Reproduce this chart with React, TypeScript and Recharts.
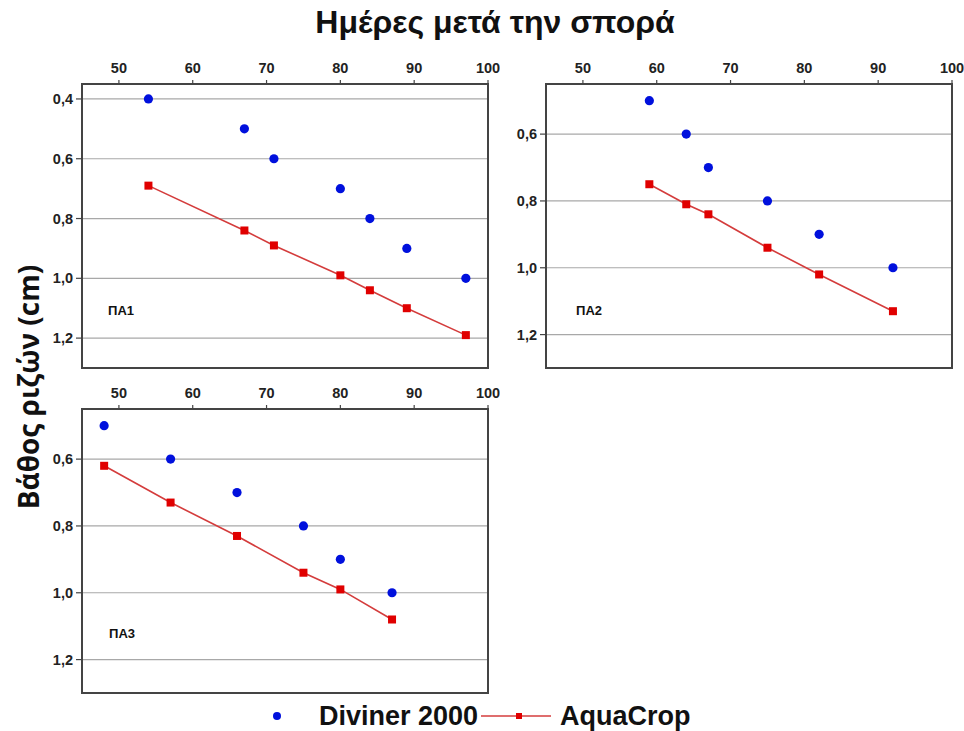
import React from "react";
import {
  ComposedChart,
  Line,
  Scatter,
  XAxis,
  YAxis,
  CartesianGrid,
  ReferenceArea,
} from "recharts";

// Panel ΠΑ1
const days1 = [54, 67, 71, 80, 84, 89, 97];
const diviner1 = [0.4, 0.5, 0.6, 0.7, 0.8, 0.9, 1.0];
const aquacrop1 = [0.69, 0.84, 0.89, 0.99, 1.04, 1.1, 1.19];

// Panel ΠΑ2
const days2 = [59, 64, 67, 75, 82, 92];
const diviner2 = [0.5, 0.6, 0.7, 0.8, 0.9, 1.0];
const aquacrop2 = [0.75, 0.81, 0.84, 0.94, 1.02, 1.13];

// Panel ΠΑ3
const days3 = [48, 57, 66, 75, 80, 87];
const diviner3 = [0.5, 0.6, 0.7, 0.8, 0.9, 1.0];
const aquacrop3 = [0.62, 0.73, 0.83, 0.94, 0.99, 1.08];

const xTicks = [50, 60, 70, 80, 90, 100];
const yTicks1 = [0.4, 0.6, 0.8, 1.0, 1.2];
const yTicks23 = [0.6, 0.8, 1.0, 1.2];

const panelNames = ["ΠΑ1", "ΠΑ2", "ΠΑ3"];
const seriesNames = ["Diviner 2000", "AquaCrop"];
const titleText = "Ημέρες μετά την σπορά";
const yLabelText = "Βάθος ριζών (cm)";

const BLUE = "#0010dd";
const RED = "#e00000";
const LINE_RED = "#d43c3c";
const FRAME = "#444";
const GRID = "#a8a8a8";

const build = (days: number[], div: number[], aq: number[]) =>
  days.map((d, i) => ({ day: d, diviner: div[i], aquacrop: aq[i] }));

const fmt = (v: number) => v.toFixed(1).replace(".", ",");

const tickStyle = {
  fontFamily: "'Liberation Sans', Arial, sans-serif",
  fontSize: 14.5,
  fontWeight: 700,
  fill: "#222",
};

const SquareDot = (props: any) => {
  const { cx, cy } = props;
  if (cx == null || cy == null) return null;
  return <rect x={cx - 4} y={cy - 4} width={8} height={8} fill={RED} />;
};

const CircleDot = (props: any) => {
  const { cx, cy } = props;
  if (cx == null || cy == null) return null;
  return <circle cx={cx} cy={cy} r={4.6} fill={BLUE} />;
};

function Panel({
  data,
  yDomain,
  yTicks,
}: {
  data: any[];
  yDomain: [number, number];
  yTicks: number[];
}) {
  return (
    <ComposedChart
      width={500}
      height={325}
      data={data}
      margin={{ top: 0, right: 12, bottom: 7, left: 0 }}
    >
      <CartesianGrid vertical={false} stroke={GRID} strokeWidth={1.2} />
      <XAxis
        type="number"
        dataKey="day"
        orientation="top"
        domain={[45, 100]}
        ticks={xTicks}
        height={34}
        tickSize={4}
        tickMargin={7}
        axisLine={false}
        tickLine={{ stroke: FRAME, strokeWidth: 1.2 }}
        tick={tickStyle}
        allowDataOverflow
        interval={0}
      />
      <YAxis
        type="number"
        domain={yDomain}
        reversed
        ticks={yTicks}
        width={82}
        tickSize={6}
        tickMargin={3}
        axisLine={false}
        tickLine={{ stroke: FRAME, strokeWidth: 1.2 }}
        tick={tickStyle}
        tickFormatter={fmt}
        allowDataOverflow
        interval={0}
      />
      <ReferenceArea
        x1={45}
        x2={100}
        y1={yDomain[0]}
        y2={yDomain[1]}
        fill="none"
        stroke={FRAME}
        strokeWidth={2}
        ifOverflow="visible"
      />
      <Line
        dataKey="aquacrop"
        name={seriesNames[1]}
        stroke={LINE_RED}
        strokeWidth={1.6}
        dot={<SquareDot />}
        activeDot={false}
        isAnimationActive={false}
      />
      <Scatter
        dataKey="diviner"
        name={seriesNames[0]}
        shape={<CircleDot />}
        isAnimationActive={false}
      />
    </ComposedChart>
  );
}

const panelLabelStyle: React.CSSProperties = {
  position: "absolute",
  fontFamily: "'Liberation Sans', Arial, sans-serif",
  fontWeight: 700,
  fontSize: 13,
  color: "#111",
  lineHeight: "13px",
};

export default function App() {
  return (
    <div
      style={{
        position: "absolute",
        left: 0,
        top: 0,
        width: 964,
        height: 731,
        background: "#fff",
        overflow: "hidden",
      }}
    >
      <div
        style={{
          position: "absolute",
          left: 0,
          top: 0,
          width: 964,
          textAlign: "center",
          paddingLeft: 26,
          boxSizing: "border-box",
          fontFamily: "'Liberation Sans Narrow', 'Liberation Sans', Arial, sans-serif",
          fontStretch: "condensed",
          fontWeight: 700,
          fontSize: 32,
          lineHeight: "44px",
          color: "#111",
        }}
      >
        {titleText}
      </div>
      <div
        style={{
          position: "absolute",
          left: 28,
          top: 387,
          transform: "translate(-50%, -50%) rotate(-90deg)",
          whiteSpace: "nowrap",
          fontFamily: "'Open Sans', sans-serif",
          fontWeight: 700,
          fontSize: 28,
          lineHeight: "34px",
          color: "#111",
        }}
      >
        {yLabelText}
      </div>

      <div style={{ position: "absolute", left: 0, top: 50 }}>
        <Panel data={build(days1, diviner1, aquacrop1)} yDomain={[0.35, 1.3]} yTicks={yTicks1} />
      </div>
      <div style={{ position: "absolute", left: 464, top: 50 }}>
        <Panel data={build(days2, diviner2, aquacrop2)} yDomain={[0.45, 1.3]} yTicks={yTicks23} />
      </div>
      <div style={{ position: "absolute", left: 0, top: 375 }}>
        <Panel data={build(days3, diviner3, aquacrop3)} yDomain={[0.45, 1.3]} yTicks={yTicks23} />
      </div>

      <div style={{ ...panelLabelStyle, left: 108, top: 304 }}>{panelNames[0]}</div>
      <div style={{ ...panelLabelStyle, left: 576, top: 304 }}>{panelNames[1]}</div>
      <div style={{ ...panelLabelStyle, left: 109, top: 627 }}>{panelNames[2]}</div>

      <div
        style={{
          position: "absolute",
          left: 268,
          top: 700,
          height: 32,
          display: "flex",
          alignItems: "center",
          fontFamily: "'Liberation Sans', Arial, sans-serif",
          fontWeight: 700,
          fontSize: 27,
          color: "#111",
        }}
      >
        <svg width={20} height={20} style={{ marginRight: 31 }}>
          <circle cx={9} cy={10} r={4} fill={BLUE} />
        </svg>
        <span>{seriesNames[0]}</span>
        <svg width={70} height={20} style={{ marginLeft: 3, marginRight: 9 }}>
          <line x1={0} y1={10} x2={70} y2={10} stroke={LINE_RED} strokeWidth={1.6} />
          <rect x={35} y={7} width={6} height={6} fill={RED} />
        </svg>
        <span>{seriesNames[1]}</span>
      </div>
    </div>
  );
}
